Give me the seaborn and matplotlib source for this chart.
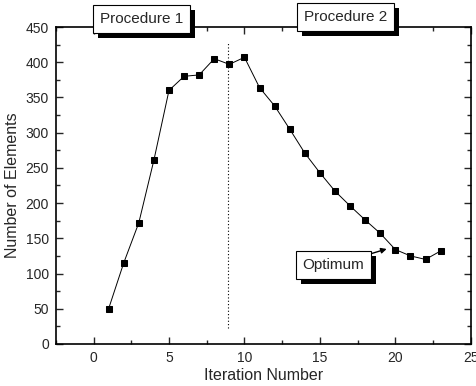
import matplotlib
matplotlib.use("Agg")
import matplotlib.pyplot as plt
import matplotlib.patheffects as pe
from matplotlib.ticker import MultipleLocator
import seaborn as sns
import pandas as pd

iterations = list(range(1, 24))
elements = [50, 115, 172, 261, 360, 380, 382, 405, 397, 407, 364, 338, 305, 271,
            243, 217, 196, 176, 157, 134, 125, 120, 132]
split_iteration = 8.9
labels = ["Procedure 1", "Procedure 2", "Optimum"]

sns.set_style("ticks")
plt.rcParams['font.family'] = ['Liberation Sans', 'DejaVu Sans']

df = pd.DataFrame({"Iteration Number": iterations, "Number of Elements": elements})

fig = plt.figure(figsize=(4.77, 3.86), dpi=100)
ax = fig.add_axes([0.117, 0.109, 0.870, 0.821])

sns.lineplot(data=df, x="Iteration Number", y="Number of Elements", ax=ax,
             color="black", linewidth=0.7, marker="s", markersize=5,
             markeredgecolor="black", markerfacecolor="black")

ax.plot([split_iteration, split_iteration], [23, 429], color="black",
        linestyle=(0, (1, 2)), linewidth=0.8)

ax.set_xlim(-2.5, 25)
ax.set_ylim(0, 450)
ax.xaxis.set_major_locator(MultipleLocator(5))
ax.xaxis.set_minor_locator(MultipleLocator(2.5))
ax.yaxis.set_major_locator(MultipleLocator(50))
ax.yaxis.set_minor_locator(MultipleLocator(25))
ax.tick_params(which="both", direction="in", top=True, right=True,
               labeltop=False, labelright=False, labelsize=10, width=1)
ax.tick_params(which="major", length=5, pad=5)
ax.tick_params(which="minor", length=3)
for s in ax.spines.values():
    s.set_linewidth(1.2)
    s.set_color("black")
ax.set_xlabel("Iteration Number", fontsize=11.5, labelpad=2)
ax.set_ylabel("Number of Elements", fontsize=11.5, labelpad=4)

shadow = [pe.withSimplePatchShadow(offset=(3.5, -3.5), shadow_rgbFace="black", alpha=1.0)]
box = dict(boxstyle="square,pad=0.45", fc="white", ec="black", lw=0.8)

t1 = ax.text(3.2, 461, labels[0], fontsize=11, ha="center", va="center",
             bbox=box, clip_on=False, zorder=10)
t2 = ax.text(16.7, 464, labels[1], fontsize=11, ha="center", va="center",
             bbox=box, clip_on=False, zorder=10)
t3 = ax.annotate(labels[2], xy=(19.6, 136), xytext=(15.9, 112), fontsize=11,
                 ha="center", va="center", bbox=box, zorder=10,
                 arrowprops=dict(arrowstyle="-|>", color="black", lw=1.0,
                                 mutation_scale=8, shrinkA=0, shrinkB=2))
for t in (t1, t2, t3):
    t.get_bbox_patch().set_path_effects(shadow)

fig.savefig("out.png", dpi=100)
